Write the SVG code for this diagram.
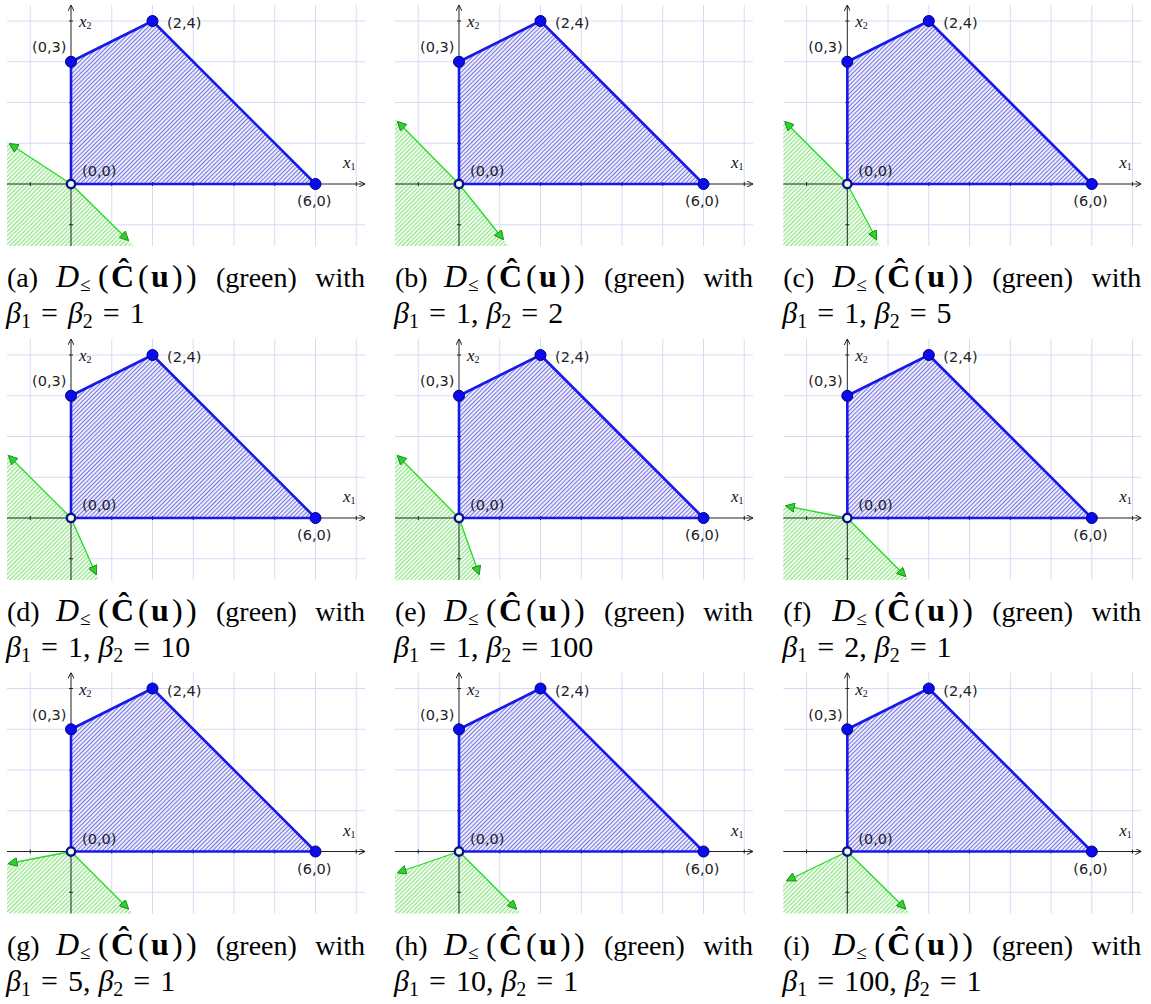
<svg xmlns="http://www.w3.org/2000/svg" xmlns:xlink="http://www.w3.org/1999/xlink" width="1151" height="1004" viewBox="0 0 1151 1004">
<style>
.gl{stroke:#d9d9f6;stroke-width:1;fill:none}
.ax{stroke:#222;stroke-width:1;fill:none}
.axa{stroke:#222;stroke-width:1;fill:none;marker-end:url(#aa)}
.poly{fill:url(#hb);stroke:none}
.edge{fill:none;stroke:#1818e8;stroke-width:2.6;stroke-linejoin:round}
.pt{fill:#0b0bf0;stroke:#00007a;stroke-width:1}
.o{fill:#e6ffe6;stroke:#10108e;stroke-width:2.4}
.cone{fill:url(#hg);stroke:none}
.ray{stroke:#22dd22;stroke-width:1.3;fill:none;marker-end:url(#ga)}
.lbl{font-family:"DejaVu Sans",sans-serif;font-size:14.5px;fill:#222}
.axl{font-family:"Liberation Serif",serif;font-style:italic;font-size:17px;fill:#111}
.axs{font-size:10px;font-style:normal}
.cap{font-family:"Liberation Serif",serif;font-size:28px;fill:#000}
.m{font-size:32px}
.l2{font-size:30px}
.it{font-style:italic}
.bf{font-weight:bold}
.sub{font-size:20px}
.sl{font-size:19px}
</style>
<defs>
<pattern id="hb" patternUnits="userSpaceOnUse" width="3" height="3" patternTransform="rotate(45)"><rect width="3" height="3" fill="#ececfc"/><line x1="0.5" y1="0" x2="0.5" y2="3" stroke="#7676e0" stroke-width="1"/></pattern>
<pattern id="hg" patternUnits="userSpaceOnUse" width="3" height="3" patternTransform="rotate(45)"><rect width="3" height="3" fill="#f0fdee"/><line x1="0.5" y1="0" x2="0.5" y2="3" stroke="#8fe288" stroke-width="1"/></pattern>
<marker id="ga" viewBox="0 0 10 10" refX="9" refY="5" markerWidth="10" markerHeight="9" markerUnits="userSpaceOnUse" orient="auto"><path d="M0,0 L10,5 L0,10 Z" fill="#2ed12e" stroke="#178a17" stroke-width="1"/></marker>
<marker id="aa" viewBox="0 0 6 6" refX="6" refY="3" markerWidth="6" markerHeight="6" markerUnits="userSpaceOnUse" orient="auto"><path d="M0,0 L6,3 L0,6" fill="none" stroke="#222" stroke-width="1"/></marker>
<g id="grid">
<path class="gl" d="M-40.75,-179V62M40.75,-179V62M81.5,-179V62M122.25,-179V62M163,-179V62M203.75,-179V62M244.5,-179V62M285.25,-179V62M-64,40.75H294M-64,-40.75H294M-64,-81.5H294M-64,-122.25H294M-64,-163H294"/>
</g>
<g id="plot">
<path class="poly" d="M0,0 L0,-122.25 L81.5,-163 L244.5,0 Z"/>
<path class="ax" d="M-40.75,-2V2M40.75,-2V2M81.5,-2V2M122.25,-2V2M163,-2V2M203.75,-2V2M244.5,-2V2M285.25,-2V2M-2,40.75H2M-2,-40.75H2M-2,-81.5H2M-2,-122.25H2M-2,-163H2"/>
<path class="axa" d="M-64,0 H294"/>
<path class="axa" d="M0,62 V-179"/>
<path class="edge" d="M0,0 L0,-122.25 L81.5,-163 L244.5,0 Z"/>
<circle class="pt" cx="0" cy="-122.25" r="5.5"/>
<circle class="pt" cx="81.5" cy="-163" r="5.5"/>
<circle class="pt" cx="244.5" cy="0" r="5.5"/>
</g>
</defs>

<!-- (a) -->
<g id="panel-a" transform="translate(71,184)">
<use href="#grid"/>
<path class="cone" d="M0,0 L-64,-42 L-64,62 L63.1,62 Z"/>
<use href="#plot"/>
<g class="connectors"><path class="ray" d="M0,0 L-61,-40"/><path class="ray" d="M0,0 L57,56"/></g>
<circle class="o" cx="0" cy="0" r="4.2"/>
<text class="axl" x="8" y="-157">x<tspan class="axs" dy="2">2</tspan></text>
<text class="axl" x="272" y="-16">x<tspan class="axs" dy="2">1</tspan></text>
<text class="lbl" x="96" y="-156">(2,4)</text>
<text class="lbl" x="-39" y="-132">(0,3)</text>
<text class="lbl" x="11" y="-8">(0,0)</text>
<text class="lbl" x="226" y="22">(6,0)</text>
<text class="cap" x="-64" y="103">(a)</text>
<text class="cap m" y="103"><tspan x="-15" class="it">D</tspan><tspan x="9" dy="4" class="sl">≤</tspan><tspan x="27" dy="-4">(</tspan><tspan x="40" class="bf">Ĉ</tspan><tspan x="67">(</tspan><tspan x="80" class="bf">u</tspan><tspan x="101">)</tspan><tspan x="115">)</tspan></text>
<text class="cap" x="145" y="103">(green)</text>
<text class="cap" x="294" y="103" text-anchor="end">with</text>
<text class="cap l2" x="-65" y="139"><tspan class="it">β</tspan><tspan class="sub" dy="5">1</tspan><tspan dy="-5" dx="10">=</tspan><tspan class="it" dx="10">β</tspan><tspan class="sub" dy="5">2</tspan><tspan dy="-5" dx="10">=</tspan><tspan dx="10">1</tspan></text>
</g>

<!-- (b) -->
<g id="panel-b" transform="translate(459,184)">
<use href="#grid"/>
<path class="cone" d="M0,0 L-64,-65 L-64,62 L49.6,62 Z"/>
<use href="#plot"/>
<g class="connectors"><path class="ray" d="M0,0 L-61,-62"/><path class="ray" d="M0,0 L44,55"/></g>
<circle class="o" cx="0" cy="0" r="4.2"/>
<text class="axl" x="8" y="-157">x<tspan class="axs" dy="2">2</tspan></text>
<text class="axl" x="272" y="-16">x<tspan class="axs" dy="2">1</tspan></text>
<text class="lbl" x="96" y="-156">(2,4)</text>
<text class="lbl" x="-39" y="-132">(0,3)</text>
<text class="lbl" x="11" y="-8">(0,0)</text>
<text class="lbl" x="226" y="22">(6,0)</text>
<text class="cap" x="-64" y="103">(b)</text>
<text class="cap m" y="103"><tspan x="-15" class="it">D</tspan><tspan x="9" dy="4" class="sl">≤</tspan><tspan x="27" dy="-4">(</tspan><tspan x="40" class="bf">Ĉ</tspan><tspan x="67">(</tspan><tspan x="80" class="bf">u</tspan><tspan x="101">)</tspan><tspan x="115">)</tspan></text>
<text class="cap" x="145" y="103">(green)</text>
<text class="cap" x="294" y="103" text-anchor="end">with</text>
<text class="cap l2" x="-65" y="139"><tspan class="it">β</tspan><tspan class="sub" dy="5">1</tspan><tspan dy="-5" dx="10">=</tspan><tspan dx="10">1,</tspan><tspan class="it" dx="8">β</tspan><tspan class="sub" dy="5">2</tspan><tspan dy="-5" dx="10">=</tspan><tspan dx="10">2</tspan></text>
</g>

<!-- (c) -->
<g id="panel-c" transform="translate(847.3,184)">
<use href="#grid"/>
<path class="cone" d="M0,0 L-64,-64 L-64,62 L32.7,62 Z"/>
<use href="#plot"/>
<g class="connectors"><path class="ray" d="M0,0 L-62,-62"/><path class="ray" d="M0,0 L29,55"/></g>
<circle class="o" cx="0" cy="0" r="4.2"/>
<text class="axl" x="8" y="-157">x<tspan class="axs" dy="2">2</tspan></text>
<text class="axl" x="272" y="-16">x<tspan class="axs" dy="2">1</tspan></text>
<text class="lbl" x="96" y="-156">(2,4)</text>
<text class="lbl" x="-39" y="-132">(0,3)</text>
<text class="lbl" x="11" y="-8">(0,0)</text>
<text class="lbl" x="226" y="22">(6,0)</text>
<text class="cap" x="-64" y="103">(c)</text>
<text class="cap m" y="103"><tspan x="-15" class="it">D</tspan><tspan x="9" dy="4" class="sl">≤</tspan><tspan x="27" dy="-4">(</tspan><tspan x="40" class="bf">Ĉ</tspan><tspan x="67">(</tspan><tspan x="80" class="bf">u</tspan><tspan x="101">)</tspan><tspan x="115">)</tspan></text>
<text class="cap" x="145" y="103">(green)</text>
<text class="cap" x="294" y="103" text-anchor="end">with</text>
<text class="cap l2" x="-65" y="139"><tspan class="it">β</tspan><tspan class="sub" dy="5">1</tspan><tspan dy="-5" dx="10">=</tspan><tspan dx="10">1,</tspan><tspan class="it" dx="8">β</tspan><tspan class="sub" dy="5">2</tspan><tspan dy="-5" dx="10">=</tspan><tspan dx="10">5</tspan></text>
</g>

<!-- (d) -->
<g id="panel-d" transform="translate(71,518)">
<use href="#grid"/>
<path class="cone" d="M0,0 L-64,-64 L-64,62 L27.7,62 Z"/>
<use href="#plot"/>
<g class="connectors"><path class="ray" d="M0,0 L-62,-62"/><path class="ray" d="M0,0 L25,56"/></g>
<circle class="o" cx="0" cy="0" r="4.2"/>
<text class="axl" x="8" y="-157">x<tspan class="axs" dy="2">2</tspan></text>
<text class="axl" x="272" y="-16">x<tspan class="axs" dy="2">1</tspan></text>
<text class="lbl" x="96" y="-156">(2,4)</text>
<text class="lbl" x="-39" y="-132">(0,3)</text>
<text class="lbl" x="11" y="-8">(0,0)</text>
<text class="lbl" x="226" y="22">(6,0)</text>
<text class="cap" x="-64" y="103">(d)</text>
<text class="cap m" y="103"><tspan x="-15" class="it">D</tspan><tspan x="9" dy="4" class="sl">≤</tspan><tspan x="27" dy="-4">(</tspan><tspan x="40" class="bf">Ĉ</tspan><tspan x="67">(</tspan><tspan x="80" class="bf">u</tspan><tspan x="101">)</tspan><tspan x="115">)</tspan></text>
<text class="cap" x="145" y="103">(green)</text>
<text class="cap" x="294" y="103" text-anchor="end">with</text>
<text class="cap l2" x="-65" y="139"><tspan class="it">β</tspan><tspan class="sub" dy="5">1</tspan><tspan dy="-5" dx="10">=</tspan><tspan dx="10">1,</tspan><tspan class="it" dx="8">β</tspan><tspan class="sub" dy="5">2</tspan><tspan dy="-5" dx="10">=</tspan><tspan dx="10">10</tspan></text>
</g>

<!-- (e) -->
<g id="panel-e" transform="translate(459,518)">
<use href="#grid"/>
<path class="cone" d="M0,0 L-64,-65 L-64,62 L22.1,62 Z"/>
<use href="#plot"/>
<g class="connectors"><path class="ray" d="M0,0 L-61,-62"/><path class="ray" d="M0,0 L20,56"/></g>
<circle class="o" cx="0" cy="0" r="4.2"/>
<text class="axl" x="8" y="-157">x<tspan class="axs" dy="2">2</tspan></text>
<text class="axl" x="272" y="-16">x<tspan class="axs" dy="2">1</tspan></text>
<text class="lbl" x="96" y="-156">(2,4)</text>
<text class="lbl" x="-39" y="-132">(0,3)</text>
<text class="lbl" x="11" y="-8">(0,0)</text>
<text class="lbl" x="226" y="22">(6,0)</text>
<text class="cap" x="-64" y="103">(e)</text>
<text class="cap m" y="103"><tspan x="-15" class="it">D</tspan><tspan x="9" dy="4" class="sl">≤</tspan><tspan x="27" dy="-4">(</tspan><tspan x="40" class="bf">Ĉ</tspan><tspan x="67">(</tspan><tspan x="80" class="bf">u</tspan><tspan x="101">)</tspan><tspan x="115">)</tspan></text>
<text class="cap" x="145" y="103">(green)</text>
<text class="cap" x="294" y="103" text-anchor="end">with</text>
<text class="cap l2" x="-65" y="139"><tspan class="it">β</tspan><tspan class="sub" dy="5">1</tspan><tspan dy="-5" dx="10">=</tspan><tspan dx="10">1,</tspan><tspan class="it" dx="8">β</tspan><tspan class="sub" dy="5">2</tspan><tspan dy="-5" dx="10">=</tspan><tspan dx="10">100</tspan></text>
</g>

<!-- (f) -->
<g id="panel-f" transform="translate(847.3,518)">
<use href="#grid"/>
<path class="cone" d="M0,0 L-64,-12.6 L-64,62 L62,62 Z"/>
<use href="#plot"/>
<g class="connectors"><path class="ray" d="M0,0 L-61,-12"/><path class="ray" d="M0,0 L58,58"/></g>
<circle class="o" cx="0" cy="0" r="4.2"/>
<text class="axl" x="8" y="-157">x<tspan class="axs" dy="2">2</tspan></text>
<text class="axl" x="272" y="-16">x<tspan class="axs" dy="2">1</tspan></text>
<text class="lbl" x="96" y="-156">(2,4)</text>
<text class="lbl" x="-39" y="-132">(0,3)</text>
<text class="lbl" x="11" y="-8">(0,0)</text>
<text class="lbl" x="226" y="22">(6,0)</text>
<text class="cap" x="-64" y="103">(f)</text>
<text class="cap m" y="103"><tspan x="-15" class="it">D</tspan><tspan x="9" dy="4" class="sl">≤</tspan><tspan x="27" dy="-4">(</tspan><tspan x="40" class="bf">Ĉ</tspan><tspan x="67">(</tspan><tspan x="80" class="bf">u</tspan><tspan x="101">)</tspan><tspan x="115">)</tspan></text>
<text class="cap" x="145" y="103">(green)</text>
<text class="cap" x="294" y="103" text-anchor="end">with</text>
<text class="cap l2" x="-65" y="139"><tspan class="it">β</tspan><tspan class="sub" dy="5">1</tspan><tspan dy="-5" dx="10">=</tspan><tspan dx="10">2,</tspan><tspan class="it" dx="8">β</tspan><tspan class="sub" dy="5">2</tspan><tspan dy="-5" dx="10">=</tspan><tspan dx="10">1</tspan></text>
</g>

<!-- (g) -->
<g id="panel-g" transform="translate(71,851.5)">
<use href="#grid"/>
<path class="cone" d="M0,0 L-64,12.4 L-64,62 L62,62 Z"/>
<use href="#plot"/>
<g class="connectors"><path class="ray" d="M0,0 L-62,12"/><path class="ray" d="M0,0 L57,57"/></g>
<circle class="o" cx="0" cy="0" r="4.2"/>
<text class="axl" x="8" y="-157">x<tspan class="axs" dy="2">2</tspan></text>
<text class="axl" x="272" y="-16">x<tspan class="axs" dy="2">1</tspan></text>
<text class="lbl" x="96" y="-156">(2,4)</text>
<text class="lbl" x="-39" y="-132">(0,3)</text>
<text class="lbl" x="11" y="-8">(0,0)</text>
<text class="lbl" x="226" y="22">(6,0)</text>
<text class="cap" x="-64" y="103">(g)</text>
<text class="cap m" y="103"><tspan x="-15" class="it">D</tspan><tspan x="9" dy="4" class="sl">≤</tspan><tspan x="27" dy="-4">(</tspan><tspan x="40" class="bf">Ĉ</tspan><tspan x="67">(</tspan><tspan x="80" class="bf">u</tspan><tspan x="101">)</tspan><tspan x="115">)</tspan></text>
<text class="cap" x="145" y="103">(green)</text>
<text class="cap" x="294" y="103" text-anchor="end">with</text>
<text class="cap l2" x="-65" y="139"><tspan class="it">β</tspan><tspan class="sub" dy="5">1</tspan><tspan dy="-5" dx="10">=</tspan><tspan dx="10">5,</tspan><tspan class="it" dx="8">β</tspan><tspan class="sub" dy="5">2</tspan><tspan dy="-5" dx="10">=</tspan><tspan dx="10">1</tspan></text>
</g>

<!-- (h) -->
<g id="panel-h" transform="translate(459,851.5)">
<use href="#grid"/>
<path class="cone" d="M0,0 L-64,22 L-64,62 L62,62 Z"/>
<use href="#plot"/>
<g class="connectors"><path class="ray" d="M0,0 L-61,21"/><path class="ray" d="M0,0 L57,57"/></g>
<circle class="o" cx="0" cy="0" r="4.2"/>
<text class="axl" x="8" y="-157">x<tspan class="axs" dy="2">2</tspan></text>
<text class="axl" x="272" y="-16">x<tspan class="axs" dy="2">1</tspan></text>
<text class="lbl" x="96" y="-156">(2,4)</text>
<text class="lbl" x="-39" y="-132">(0,3)</text>
<text class="lbl" x="11" y="-8">(0,0)</text>
<text class="lbl" x="226" y="22">(6,0)</text>
<text class="cap" x="-64" y="103">(h)</text>
<text class="cap m" y="103"><tspan x="-15" class="it">D</tspan><tspan x="9" dy="4" class="sl">≤</tspan><tspan x="27" dy="-4">(</tspan><tspan x="40" class="bf">Ĉ</tspan><tspan x="67">(</tspan><tspan x="80" class="bf">u</tspan><tspan x="101">)</tspan><tspan x="115">)</tspan></text>
<text class="cap" x="145" y="103">(green)</text>
<text class="cap" x="294" y="103" text-anchor="end">with</text>
<text class="cap l2" x="-65" y="139"><tspan class="it">β</tspan><tspan class="sub" dy="5">1</tspan><tspan dy="-5" dx="10">=</tspan><tspan dx="10">10,</tspan><tspan class="it" dx="8">β</tspan><tspan class="sub" dy="5">2</tspan><tspan dy="-5" dx="10">=</tspan><tspan dx="10">1</tspan></text>
</g>

<!-- (i) -->
<g id="panel-i" transform="translate(847.3,851.5)">
<use href="#grid"/>
<path class="cone" d="M0,0 L-64,30.9 L-64,62 L63.1,62 Z"/>
<use href="#plot"/>
<g class="connectors"><path class="ray" d="M0,0 L-60,29"/><path class="ray" d="M0,0 L58,57"/></g>
<circle class="o" cx="0" cy="0" r="4.2"/>
<text class="axl" x="8" y="-157">x<tspan class="axs" dy="2">2</tspan></text>
<text class="axl" x="272" y="-16">x<tspan class="axs" dy="2">1</tspan></text>
<text class="lbl" x="96" y="-156">(2,4)</text>
<text class="lbl" x="-39" y="-132">(0,3)</text>
<text class="lbl" x="11" y="-8">(0,0)</text>
<text class="lbl" x="226" y="22">(6,0)</text>
<text class="cap" x="-64" y="103">(i)</text>
<text class="cap m" y="103"><tspan x="-15" class="it">D</tspan><tspan x="9" dy="4" class="sl">≤</tspan><tspan x="27" dy="-4">(</tspan><tspan x="40" class="bf">Ĉ</tspan><tspan x="67">(</tspan><tspan x="80" class="bf">u</tspan><tspan x="101">)</tspan><tspan x="115">)</tspan></text>
<text class="cap" x="145" y="103">(green)</text>
<text class="cap" x="294" y="103" text-anchor="end">with</text>
<text class="cap l2" x="-65" y="139"><tspan class="it">β</tspan><tspan class="sub" dy="5">1</tspan><tspan dy="-5" dx="10">=</tspan><tspan dx="10">100,</tspan><tspan class="it" dx="8">β</tspan><tspan class="sub" dy="5">2</tspan><tspan dy="-5" dx="10">=</tspan><tspan dx="10">1</tspan></text>
</g>
</svg>
